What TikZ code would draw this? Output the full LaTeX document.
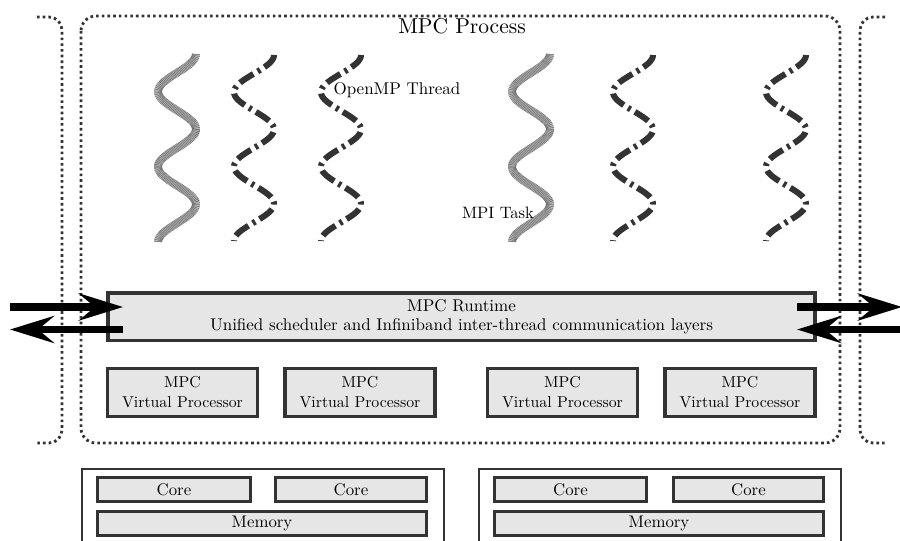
\documentclass[tikz,border=0pt]{standalone}
\usepackage{fontspec}
\setmainfont{lmroman10-regular.otf}
\usetikzlibrary{arrows.meta}
\definecolor{dk}{HTML}{333333}
\definecolor{bfill}{HTML}{E6E6E6}
\tikzset{
  dotline/.style={draw=dk, line width=2.8pt, dash pattern=on 2.6pt off 3.1pt},
  box/.style={draw=dk, fill=bfill, line width=3.5pt, inner sep=0pt, align=center,
    font=\fontsize{17}{19}\selectfont},
  vpbox/.style={box, minimum width=150pt, minimum height=48pt, font=\fontsize{15.8}{20}\selectfont},
  corebox/.style={box, line width=3pt, minimum height=24pt, font=\fontsize{16.8}{19}\selectfont},
  hwbox/.style={draw=dk, line width=2.5pt},
  lbl/.style={inner sep=0pt, anchor=base, font=\fontsize{17}{19}\selectfont},
  bigarrow/.style={line width=7.5pt, -{Stealth[length=44pt,width=27pt,inset=16pt]}},
  dthread/.style={draw=dk, line width=6pt, dash pattern=on 16pt off 5pt on 3pt off 5pt},
  hthreadbase/.style={draw=gray!50, line width=8pt},
  hthreadtop/.style={draw=black!55, line width=8pt, dash pattern=on 0.6pt off 0.8pt},
}
\begin{document}
\begin{tikzpicture}[x=1pt,y=-1pt]
\useasboundingbox (0,0) rectangle (900,541);
\clip (0,0) rectangle (900,541);

% process enclosures
\draw[dotline, rounded corners=15pt] (81,16) rectangle (840,443);
\draw[dotline, rounded corners=13pt] (37,17) -| (62,443) -- (37,443);
\draw[dotline, rounded corners=13pt] (885,17) -| (860,443) -- (885,443);

\node[lbl, font=\fontsize{21.5}{24}\selectfont] (proc) at (462,33.5) {MPC Process};

% threads
\foreach \c in {177,531}{
  \draw[hthreadbase] plot[domain=0:5,samples=150,smooth] ({\c+19*cos(\x*180)},{54+37.6*\x});
  \draw[hthreadtop] plot[domain=0:5,samples=150,smooth] ({\c+19*cos(\x*180)},{54+37.6*\x});
}
\foreach \c in {254,341,633,786}{
  \draw[dthread] plot[domain=0:5,samples=150,smooth] ({\c+20*cos(\x*180)},{55+37.2*\x});
}
\node[lbl] (omp) at (397,94) {OpenMP Thread};
\node[lbl, font=\fontsize{16.5}{19}\selectfont] (mpi) at (498,218) {MPI Task};

% runtime
\node[box, minimum width=707pt, minimum height=47.5pt] (rt) at (461.5,316.5)
  {MPC Runtime\\Unified scheduler and Infiniband inter-thread communication layers};

% virtual processors
\node[vpbox] (vp1) at (182.5,392.5) {MPC\\Virtual Processor};
\node[vpbox] (vp2) at (360,392.5) {MPC\\Virtual Processor};
\node[vpbox] (vp3) at (562.5,392.5) {MPC\\Virtual Processor};
\node[vpbox] (vp4) at (740,392.5) {MPC\\Virtual Processor};

% hardware
\draw[hwbox] (82,560) |- (444,469) -- (444,560);
\draw[hwbox] (479,560) |- (841,469) -- (841,560);
\node[corebox, minimum width=153pt] (c1) at (174,489.5) {Core};
\node[corebox, minimum width=151pt] (c2) at (351,489.5) {Core};
\node[corebox, minimum width=329pt] (m1) at (262,523.5) {Memory};
\node[corebox, minimum width=152pt] (c3) at (570.5,489.5) {Core};
\node[corebox, minimum width=150pt] (c4) at (748.5,489.5) {Core};
\node[corebox, minimum width=329pt] (m2) at (659,523.5) {Memory};

% arrows
\coordinate (la) at (10,307);
\coordinate (lb) at (123,307);
\coordinate (lc) at (123,329.5);
\coordinate (ld) at (10,329.5);
\coordinate (ra) at (797,307);
\coordinate (rb) at (902,307);
\coordinate (rc) at (902,329.5);
\coordinate (rd) at (797,329.5);
\draw[bigarrow] (la) -- (lb);
\draw[bigarrow] (lc) -- (ld);
\draw[bigarrow] (ra) -- (rb);
\draw[bigarrow] (rc) -- (rd);
\end{tikzpicture}
\end{document}
